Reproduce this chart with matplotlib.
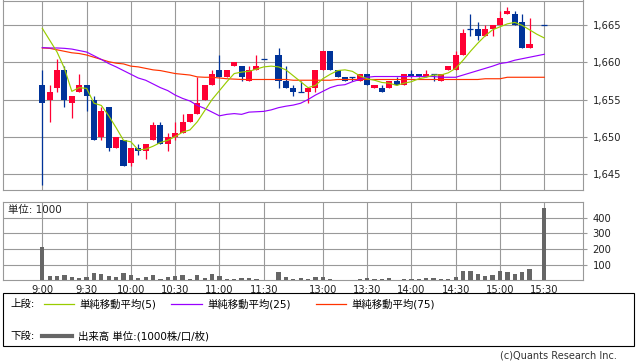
import matplotlib
matplotlib.use("Agg")
import matplotlib.pyplot as plt
import numpy as np
from matplotlib.patches import Rectangle

plt.rcParams["font.family"] = ["DejaVu Sans", "Noto Sans CJK JP"]

W, H = 638, 362
RED, BLUE = "#ff0033", "#003399"
C_MA5, C_MA25, C_MA75 = "#99cc00", "#9900ff", "#ff3300"
GRID = "#999999"

# 5-minute slots from 9:00; slot 31 (lunch) and 67 (closing auction wait) are empty
TIME_POS = [0, 6, 12, 18, 24, 30, 38, 44, 50, 56, 62, 68]
TIME_LABELS = ["9:00", "9:30", "10:00", "10:30", "11:00", "11:30",
               "13:00", "13:30", "14:00", "14:30", "15:00", "15:30"]
PRICE_TICKS = [1645, 1650, 1655, 1660, 1665]
VOL_TICKS = [100, 200, 300, 400]

OPEN = [1657.0, 1655.0, 1656.5, 1659.0, 1654.5, 1656.0, 1657.0, 1655.0, 1650.0, 1654.0,
        1648.5, 1649.5, 1646.5, 1648.5, 1648.0, 1649.5, 1651.5, 1649.0, 1650.0, 1650.5,
        1652.0, 1653.0, 1655.0, 1657.0, 1659.0, 1658.0, 1659.5, 1659.5, 1657.5, 1659.0,
        1660.5, None, 1661.0, 1657.5, 1656.5, 1656.0, 1656.0, 1656.5, 1659.0, 1661.5,
        1659.0, 1658.0, 1658.0, 1657.5, 1658.5, 1656.5, 1656.5, 1656.5, 1657.5, 1657.0,
        1658.5, 1658.5, 1658.0, 1658.5, 1657.5, 1659.0, 1659.0, 1661.0, 1664.5, 1664.5,
        1663.5, 1664.5, 1665.0, 1666.5, 1666.5, 1665.5, 1662.0, None, 1665.0]
HIGH = [1659.0, 1657.0, 1660.5, 1659.5, 1655.5, 1658.5, 1657.0, 1655.5, 1654.0, 1654.0,
        1650.0, 1649.5, 1648.5, 1649.0, 1649.0, 1652.0, 1652.0, 1650.5, 1652.0, 1653.0,
        1653.0, 1658.0, 1657.0, 1659.0, 1661.0, 1659.0, 1660.0, 1659.5, 1659.5, 1661.0,
        1660.5, None, 1662.0, 1659.5, 1657.0, 1657.5, 1656.5, 1659.0, 1661.5, 1661.5,
        1659.0, 1658.0, 1658.0, 1658.5, 1658.5, 1657.0, 1657.0, 1657.5, 1658.0, 1658.5,
        1659.0, 1658.5, 1659.0, 1658.5, 1658.5, 1659.5, 1661.5, 1664.5, 1666.5, 1665.5,
        1665.0, 1665.0, 1667.0, 1667.5, 1667.0, 1666.5, 1666.0, None, 1665.0]
LOW = [1643.5, 1652.0, 1656.0, 1654.0, 1652.5, 1656.0, 1653.5, 1649.5, 1649.5, 1648.0,
       1648.5, 1646.0, 1646.0, 1647.5, 1647.0, 1649.5, 1649.0, 1648.0, 1649.5, 1650.5,
       1652.0, 1653.0, 1655.0, 1657.0, 1658.0, 1658.0, 1659.5, 1657.5, 1657.5, 1659.0,
       1660.5, None, 1656.5, 1656.5, 1655.5, 1656.0, 1654.5, 1656.0, 1659.0, 1659.0,
       1658.0, 1657.5, 1657.5, 1657.5, 1657.0, 1656.5, 1656.0, 1656.5, 1657.0, 1657.0,
       1658.0, 1658.0, 1658.0, 1657.5, 1657.5, 1659.0, 1659.0, 1661.0, 1663.5, 1663.0,
       1663.5, 1663.5, 1665.0, 1666.5, 1665.0, 1662.0, 1662.0, None, 1665.0]
CLOSE = [1654.5, 1656.0, 1659.0, 1655.0, 1655.5, 1657.0, 1655.5, 1649.5, 1653.5, 1648.5,
         1650.0, 1646.0, 1648.5, 1648.0, 1649.0, 1651.5, 1649.0, 1650.0, 1650.5, 1652.0,
         1653.0, 1654.5, 1657.0, 1658.5, 1658.0, 1659.0, 1660.0, 1658.0, 1659.0, 1659.5,
         1660.5, None, 1657.5, 1656.5, 1656.0, 1656.0, 1656.5, 1659.0, 1661.5, 1659.0,
         1658.0, 1657.5, 1658.0, 1658.5, 1657.0, 1657.0, 1656.0, 1657.5, 1657.0, 1658.5,
         1658.0, 1658.0, 1658.5, 1658.5, 1658.5, 1659.5, 1661.0, 1664.0, 1664.5, 1663.5,
         1664.5, 1665.0, 1666.0, 1667.0, 1665.0, 1662.0, 1662.5, None, 1665.0]
VOLUME = [210, 28, 28, 32, 21, 15, 21, 45, 38, 28,
          21, 45, 32, 15, 21, 32, 9, 21, 28, 32,
          9, 32, 15, 38, 28, 9, 9, 15, 15, 9,
          4, 0, 51, 21, 9, 15, 9, 21, 21, 9,
          4, 4, 4, 9, 13, 9, 9, 13, 4, 9,
          9, 9, 13, 13, 9, 9, 21, 57, 57, 38,
          28, 32, 57, 51, 38, 51, 70, 0, 464]
MA5 = [1664.6, 1663.0, 1661.4, 1659.2, 1656.1, 1656.6, 1656.5, 1654.5, 1654.2, 1652.8,
       1651.2, 1649.5, 1649.3, 1648.2, 1648.3, 1648.7, 1649.2, 1649.5, 1650.0, 1650.6,
       1650.9, 1652.0, 1653.5, 1655.0, 1656.2, 1657.4, 1658.5, 1658.7, 1658.8, 1659.1,
       1659.4, 1659.5, 1659.4, 1659.0, 1658.2, 1657.4, 1656.6, 1656.9, 1657.8, 1658.4,
       1658.9, 1659.0, 1658.8, 1658.2, 1657.8, 1657.6, 1657.3, 1657.2, 1656.9, 1657.2,
       1657.4, 1657.8, 1658.0, 1658.3, 1658.3, 1658.6, 1659.2, 1660.3, 1661.5, 1662.6,
       1663.6, 1664.4, 1664.8, 1665.2, 1665.4, 1665.0, 1664.4, 1663.8, 1663.3]
MA25 = [1662.0, 1661.95, 1661.95, 1661.9, 1661.8, 1661.6, 1661.4, 1660.9, 1660.4, 1659.85,
        1659.4, 1658.9, 1658.4, 1657.9, 1657.6, 1657.1, 1656.6, 1656.2, 1655.6, 1655.15,
        1654.8, 1654.2, 1653.8, 1653.3, 1652.8, 1653.0, 1653.1, 1653.0, 1653.3, 1653.35,
        1653.4, 1653.6, 1653.9, 1654.1, 1654.25, 1654.5, 1655.0, 1655.6, 1656.1, 1656.6,
        1656.9, 1657.0, 1657.4, 1657.7, 1658.0, 1658.1, 1658.1, 1658.1, 1658.1, 1658.1,
        1658.1, 1658.1, 1658.1, 1658.1, 1658.0, 1658.0, 1658.0, 1658.3, 1658.6, 1658.9,
        1659.2, 1659.5, 1659.85, 1660.0, 1660.3, 1660.5, 1660.7, 1660.9, 1661.1]
MA75 = [1661.95, 1661.9, 1661.7, 1661.5, 1661.3, 1661.2, 1661.0, 1660.7, 1660.4, 1660.1,
        1659.9, 1659.8, 1659.5, 1659.4, 1659.2, 1659.0, 1658.9, 1658.7, 1658.5, 1658.4,
        1658.3, 1658.05, 1658.0, 1658.0, 1657.9, 1657.8, 1657.75, 1657.7, 1657.7, 1657.7,
        1657.7, 1657.7, 1657.7, 1657.7, 1657.6, 1657.6, 1657.6, 1657.6, 1657.6, 1657.6,
        1657.7, 1657.7, 1657.7, 1657.7, 1657.7, 1657.7, 1657.7, 1657.7, 1657.7, 1657.7,
        1657.7, 1657.7, 1657.7, 1657.7, 1657.7, 1657.7, 1657.7, 1657.7, 1657.7, 1657.7,
        1657.8, 1657.8, 1657.8, 1658.0, 1658.0, 1658.0, 1658.0, 1658.0, 1658.0]

# pixel geometry of the original: slot 0 at x=42.3, 7.382 px per slot
X_LIM = ((3 - 42.3) / 7.382, (582.7 - 42.3) / 7.382)


def arr(v):
    return np.array([np.nan if a is None else a for a in v], dtype=float)


def style_axes(ax):
    for s in ax.spines.values():
        s.set_color(GRID)
        s.set_linewidth(0.8)
    ax.set_xlim(*X_LIM)
    ax.set_xticks(TIME_POS)
    ax.grid(True, color=GRID, lw=0.8)
    ax.set_axisbelow(True)
    ax.yaxis.tick_right()
    ax.tick_params(axis="y", length=3, color=GRID, labelsize=7.2, pad=4, labelcolor="#222222")
    ax.tick_params(axis="x", length=0, labelsize=7.2, pad=3, labelcolor="#222222")


def candles(ax, o, h, l, c):
    x = np.arange(len(o))
    ok = ~np.isnan(o)
    up = ok & (c > o)
    dn = ok & (c <= o)
    for m, col in ((up, RED), (dn, BLUE)):
        ax.vlines(x[m], l[m], h[m], color=col, lw=0.9, zorder=3)
        ax.bar(x[m], np.abs(c - o)[m], bottom=np.minimum(o, c)[m], width=0.82,
               color=col, lw=0, zorder=3)
    doji = ok & (o == c)
    ax.hlines(c[doji], x[doji] - 0.41, x[doji] + 0.41, color=BLUE, lw=0.9, zorder=3)


fig = plt.figure(figsize=(W / 100, H / 100), dpi=100)

# price panel
ax = fig.add_axes([3 / W, 1 - 190 / H, 579.7 / W, 189.5 / H])
style_axes(ax)
ax.set_ylim(1642.8, 1668.35)
ax.set_yticks(PRICE_TICKS)
ax.set_yticklabels([f"{v:,}" for v in PRICE_TICKS])
ax.set_xticklabels([])
x = np.arange(len(CLOSE))
ax.plot(x, MA75, color=C_MA75, lw=0.85, zorder=4)
ax.plot(x, MA25, color=C_MA25, lw=0.85, zorder=4)
ax.plot(x, MA5, color=C_MA5, lw=0.85, zorder=4)
candles(ax, arr(OPEN), arr(HIGH), arr(LOW), arr(CLOSE))

# volume panel
av = fig.add_axes([3 / W, 1 - 280.4 / H, 579.7 / W, 78.4 / H])
style_axes(av)
av.set_ylim(0, 500)
av.set_yticks(VOL_TICKS)
av.set_xticklabels(TIME_LABELS)
av.bar(x, VOLUME, width=0.58, color="#666666", lw=0, zorder=3)
av.text(5 / 579.7, 0.9, "単位: 1000", transform=av.transAxes, fontsize=7.5,
        va="center", ha="left", color="#222222")

# legend box, drawn in pixel coordinates
la = fig.add_axes([0, 0, 1, 1])
la.set_xlim(0, W)
la.set_ylim(H, 0)
la.axis("off")
la.add_patch(Rectangle((3, 293), 631, 53, fill=False, ec="black", lw=0.8))
fs = 7.5
la.text(10, 304, "上段:", fontsize=fs, va="center")
for (x0, x1, col, label, tx) in [(44, 74, C_MA5, "単純移動平均(5)", 79),
                                 (171, 202, C_MA25, "単純移動平均(25)", 207),
                                 (316, 346, C_MA75, "単純移動平均(75)", 351)]:
    la.plot([x0, x1], [304, 304], color=col, lw=0.9)
    la.text(tx, 304, label, fontsize=fs, va="center")
la.text(10, 336, "下段:", fontsize=fs, va="center")
la.plot([42, 72], [336, 336], color="#666666", lw=3)
la.text(78, 336, "出来高 単位:(1000株/口/枚)", fontsize=fs, va="center")
la.text(617, 356, "(c)Quants Research Inc.", fontsize=7, va="center", ha="right",
        color="#333333")

fig.savefig("out.png", dpi=100)
